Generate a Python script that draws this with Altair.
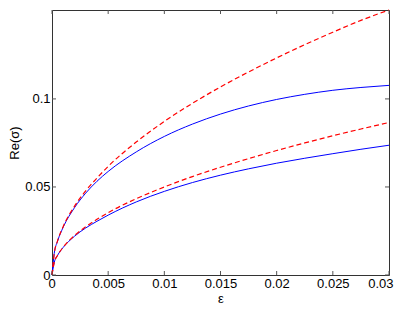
import altair as alt
import pandas as pd

eps = [0, 0.0002, 0.0005, 0.001, 0.002, 0.003, 0.004, 0.005, 0.0075, 0.01,
       0.0125, 0.015, 0.0175, 0.02, 0.0225, 0.025, 0.0275, 0.03]
upper_blue = [0, 0.0123, 0.0193, 0.0272, 0.0382, 0.0465, 0.0532, 0.0588, 0.0699, 0.0787,
              0.0857, 0.0914, 0.0960, 0.0997, 0.1026, 0.1049, 0.1065, 0.1077]
upper_red = [0, 0.0123, 0.0195, 0.0276, 0.039, 0.0478, 0.055, 0.0617, 0.0755, 0.0872,
             0.0975, 0.1068, 0.1153, 0.1233, 0.1308, 0.1379, 0.1446, 0.1505]
lower_blue = [0, 0.0071, 0.0112, 0.0157, 0.022, 0.0267, 0.0305, 0.0340, 0.0415, 0.0475,
              0.0525, 0.0567, 0.0603, 0.0635, 0.0663, 0.0689, 0.0714, 0.0737]
lower_red = [0, 0.0071, 0.0112, 0.0158, 0.0224, 0.0274, 0.0316, 0.0354, 0.0433, 0.05,
             0.0559, 0.0612, 0.0661, 0.0707, 0.075, 0.0791, 0.0829, 0.0866]

x_ticks = [0, 0.005, 0.01, 0.015, 0.02, 0.025, 0.03]
y_ticks = [0, 0.05, 0.1]

rows = []
for name, vals, kind in [("ub", upper_blue, "solid"), ("ur", upper_red, "dashed"),
                         ("lb", lower_blue, "solid"), ("lr", lower_red, "dashed")]:
    for e, v in zip(eps, vals):
        rows.append({"eps": e, "val": v, "series": name, "kind": kind})
df = pd.DataFrame(rows)

W, H = 337, 265
FONT = "Liberation Sans"
xscale = alt.Scale(domain=[0, 0.03], nice=False)
yscale = alt.Scale(domain=[0, 0.1505], nice=False)

xaxis = alt.Axis(values=x_ticks, title="ε", format="~g", domain=False, ticks=False,
                 grid=False, labelPadding=2, labelFontSize=13,
                 labelFont=FONT, titleFont=FONT, titleFontSize=13,
                 titleFontWeight="normal", titlePadding=2, labelColor="black",
                 titleColor="black", labelFlush=True, labelFlushOffset=4,
                 labelOverlap=False)
yaxis = alt.Axis(values=y_ticks, title="Re(σ)", format="~g", domain=False, ticks=False,
                 grid=False, labelPadding=2, labelFontSize=13,
                 labelFont=FONT, titleFont=FONT, titleFontSize=13,
                 titleFontWeight="normal", titlePadding=3, labelColor="black",
                 titleColor="black", labelFlush=False, labelOverlap=False)

blue = alt.Chart(df[df.kind == "solid"]).mark_line(
    color="#0000ff", strokeWidth=1, interpolate="monotone").encode(
    x=alt.X("eps:Q", scale=xscale, axis=xaxis),
    y=alt.Y("val:Q", scale=yscale, axis=yaxis), detail="series:N")
red = alt.Chart(df[df.kind == "dashed"]).mark_line(
    color="#ff0000", strokeWidth=1.2, strokeDash=[5, 3], interpolate="monotone").encode(
    x=alt.X("eps:Q", scale=xscale, axis=xaxis),
    y=alt.Y("val:Q", scale=yscale, axis=yaxis), detail="series:N")

xt = pd.DataFrame({"t": x_ticks})
yt = pd.DataFrame({"t": y_ticks})
tick_color = "#555555"
xb = alt.Chart(xt).mark_rule(color=tick_color).encode(
    x=alt.X("t:Q", scale=xscale, axis=xaxis), y=alt.value(H), y2=alt.value(H - 4))
xtp = alt.Chart(xt).mark_rule(color=tick_color).encode(
    x=alt.X("t:Q", scale=xscale, axis=xaxis), y=alt.value(0), y2=alt.value(4))
yl = alt.Chart(yt).mark_rule(color=tick_color).encode(
    y=alt.Y("t:Q", scale=yscale, axis=yaxis), x=alt.value(0), x2=alt.value(4))
yr = alt.Chart(yt).mark_rule(color=tick_color).encode(
    y=alt.Y("t:Q", scale=yscale, axis=yaxis), x=alt.value(W), x2=alt.value(W - 4))

chart = alt.layer(blue, red, xb, xtp, yl, yr).properties(
    width=W, height=H,
    autosize=alt.AutoSizeParams(type="none"),
    padding={"left": 44, "top": 2, "right": 8, "bottom": 32},
    background="white",
).configure_view(stroke="#333333", strokeWidth=1)

chart.save("out.html", embed_options={"renderer": "svg", "actions": False})
